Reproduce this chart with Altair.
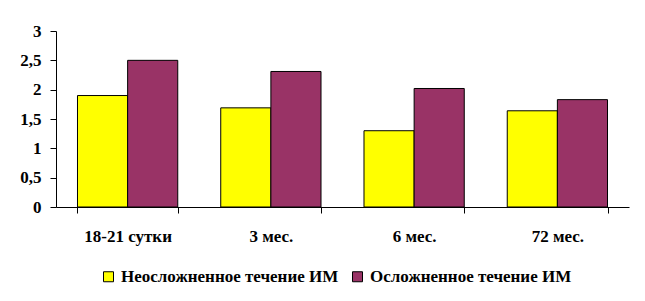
import altair as alt
import pandas as pd

categories = ["18-21 сутки", "3 мес.", "6 мес.", "72 мес."]
series_names = ["Неосложненное течение ИМ", "Осложненное течение ИМ"]
uncomplicated = [1.90, 1.69, 1.30, 1.64]
complicated = [2.50, 2.31, 2.02, 1.83]
y_ticks = [0, 0.5, 1, 1.5, 2, 2.5, 3]
colors = ["#FFFF00", "#993366"]

rows = []
for c, a, b in zip(categories, uncomplicated, complicated):
    rows.append({"cat": c, "series": series_names[0], "value": a})
    rows.append({"cat": c, "series": series_names[1], "value": b})
df = pd.DataFrame(rows)

FONT = "Liberation Serif"
FS = 17
W, H = 573, 176

xscale = alt.Scale(domain=categories, paddingInner=0.3, paddingOuter=0.15)

chart = alt.Chart(df).mark_bar(stroke="black", strokeWidth=1).encode(
    x=alt.X("cat:N", scale=xscale, sort=categories, title=None,
            axis=alt.Axis(orient="bottom", labelAngle=0, ticks=True, tickBand="extent",
                          tickSize=6, tickColor="black", domain=True, grid=False,
                          domainColor="black", labelFont=FONT, labelFontSize=FS,
                          labelFontWeight="bold", labelColor="black", labelPadding=15)),
    xOffset=alt.XOffset("series:N", sort=series_names,
                        scale=alt.Scale(paddingInner=0, paddingOuter=0)),
    y=alt.Y("value:Q", scale=alt.Scale(domain=[0, 3], nice=False), title=None,
            axis=alt.Axis(values=y_ticks, grid=False, tickSize=6, tickColor="black",
                          domainColor="black", labelFont=FONT, labelFontSize=FS,
                          labelFontWeight="bold", labelColor="black", labelPadding=9,
                          labelExpr="replace(format(datum.value, '~g'), '.', ',')")),
    color=alt.Color("series:N", sort=series_names,
                    scale=alt.Scale(domain=series_names, range=colors),
                    legend=alt.Legend(title=None, orient="none", direction="horizontal",
                                      legendX=44, legendY=237, symbolType="square",
                                      symbolSize=100, symbolStrokeColor="black",
                                      symbolStrokeWidth=1, labelFont=FONT,
                                      labelFontSize=FS, labelFontWeight="bold",
                                      labelColor="black", labelLimit=400,
                                      columnPadding=10, labelOffset=4)),
).properties(
    width=W, height=H,
    autosize=alt.AutoSizeParams(type="none"),
    padding={"left": 56, "top": 31, "right": 14, "bottom": 88},
).configure(background="white", font=FONT).configure_view(stroke=None)

chart.save("out.html", embed_options={"renderer": "svg", "actions": False})
